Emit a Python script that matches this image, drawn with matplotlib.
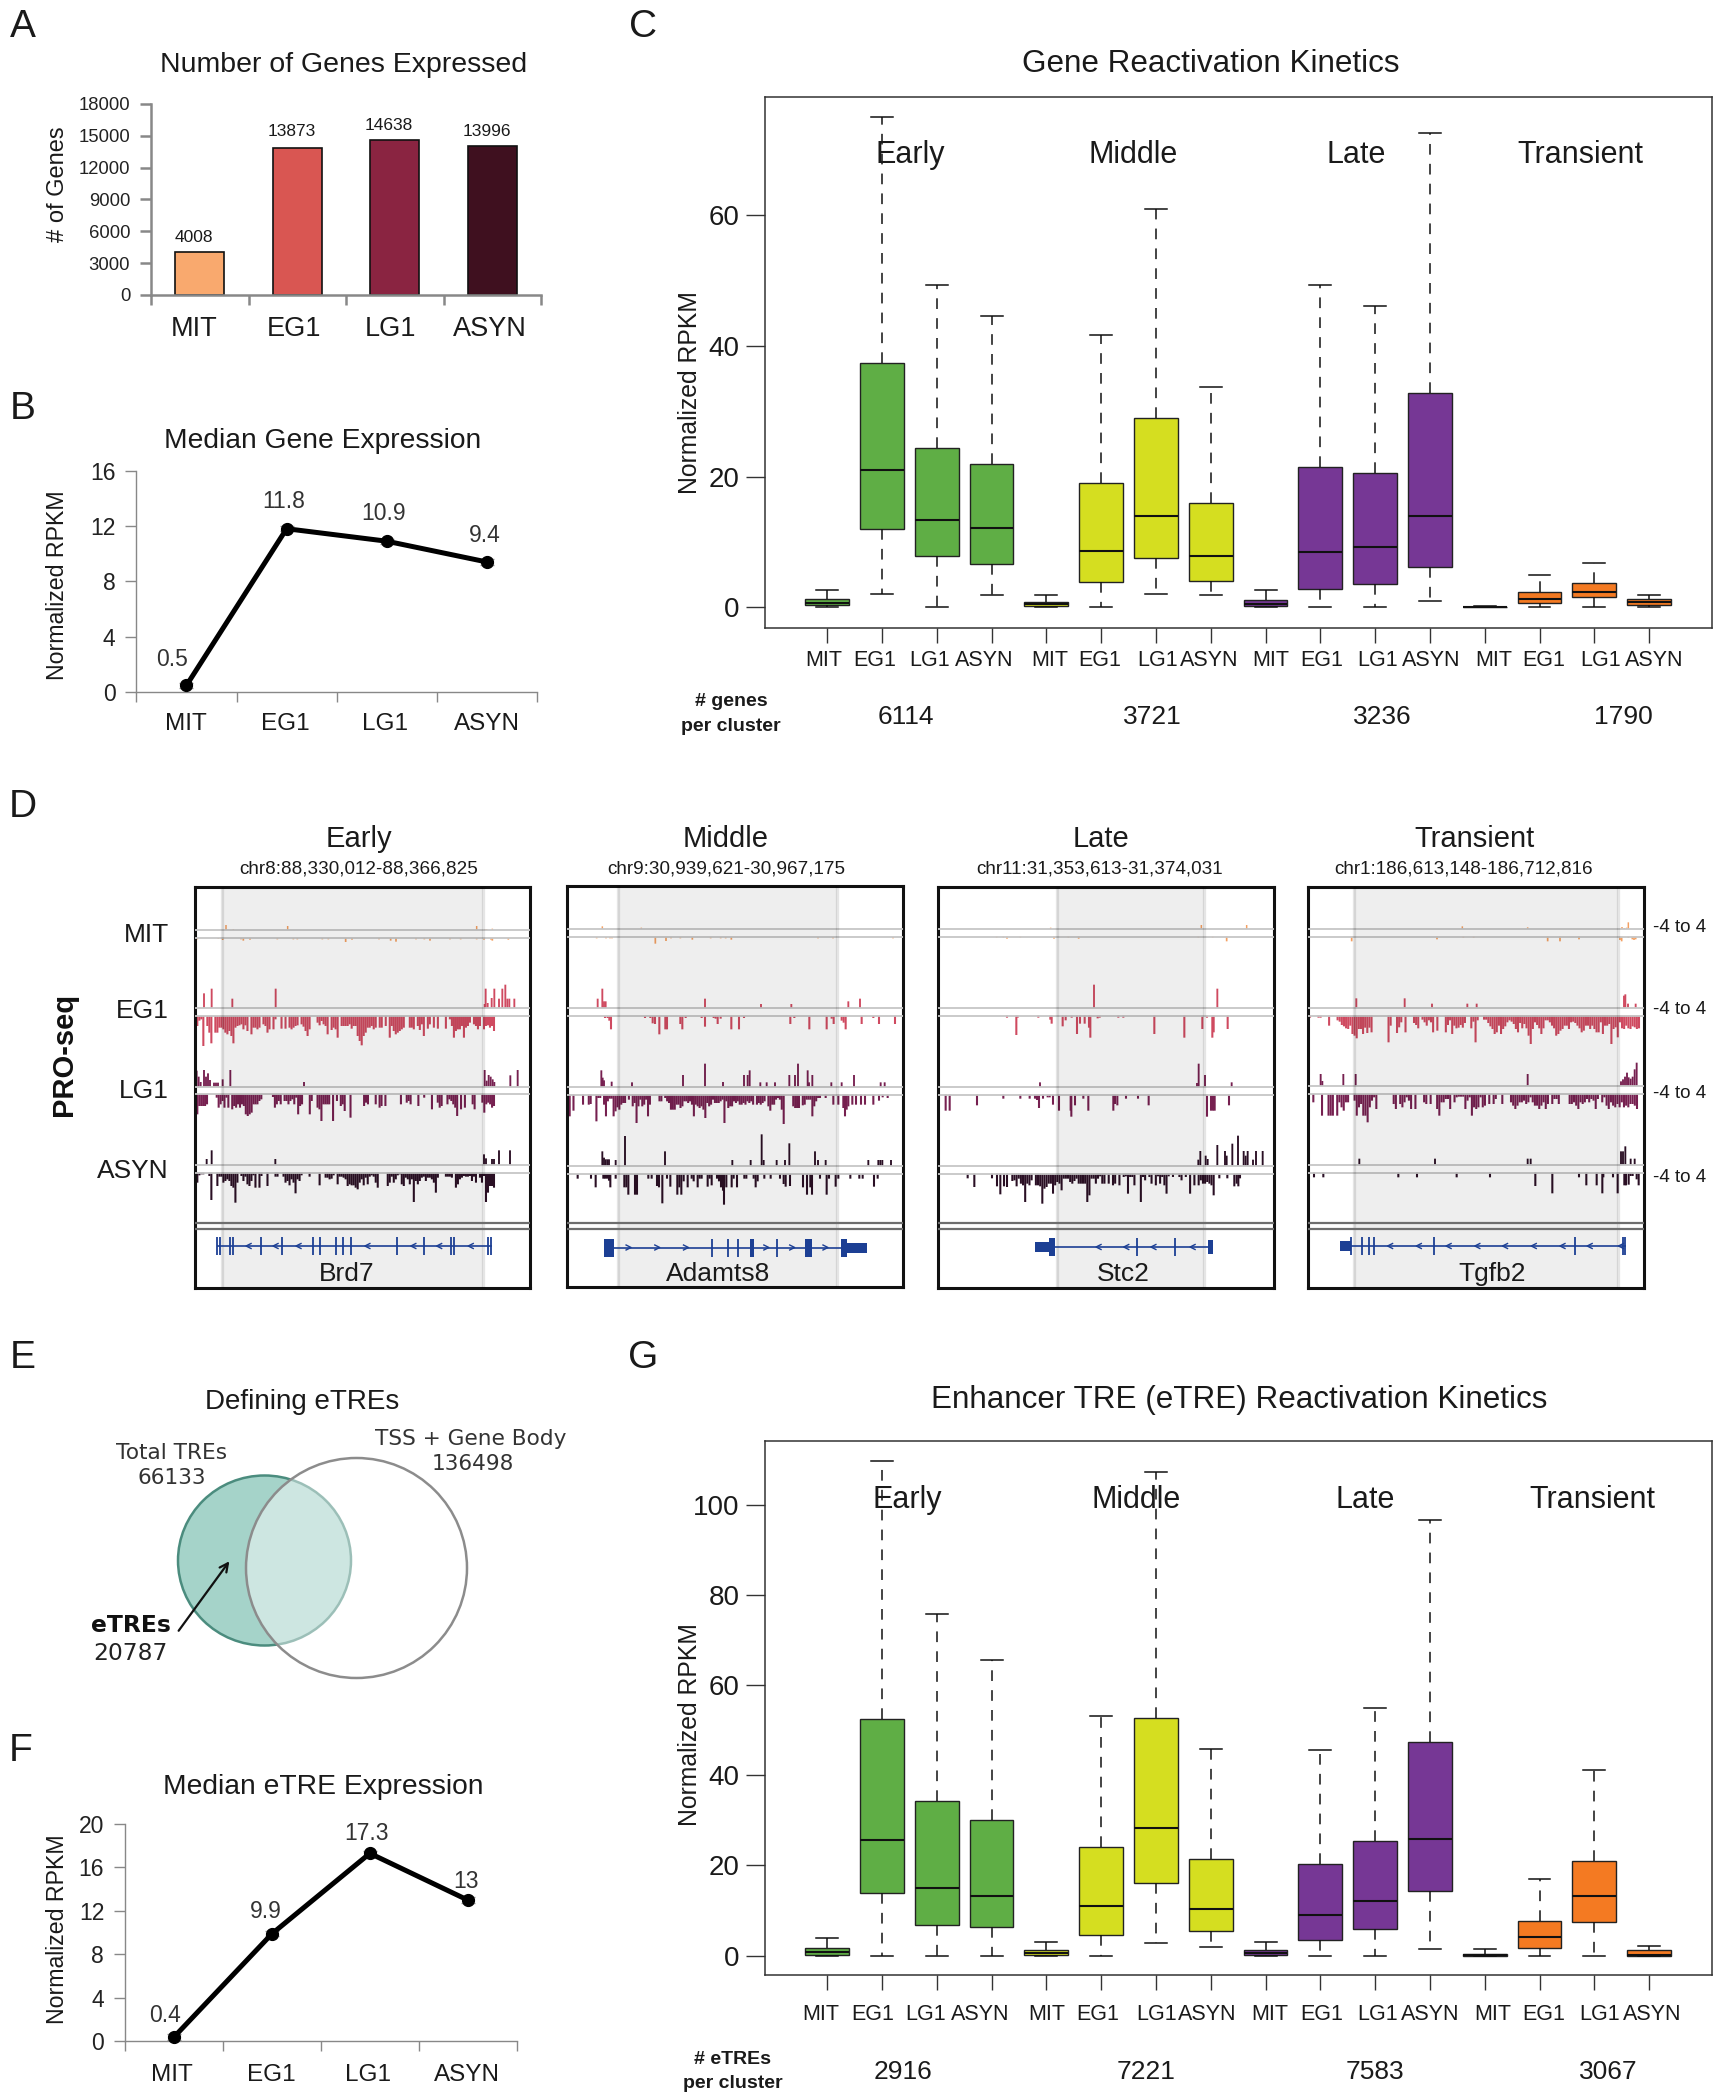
import numpy as np
import matplotlib
matplotlib.use("Agg")
import matplotlib.pyplot as plt
from matplotlib.patches import Ellipse, FancyArrowPatch, Rectangle

plt.rcParams['font.family'] = ['Liberation Sans', 'DejaVu Sans']
W, H = 1719, 2100
fig = plt.figure(figsize=(W / 100, H / 100), dpi=100, facecolor='white')

# ---------------- data ----------------
stages = ['MIT', 'EG1', 'LG1', 'ASYN']
clusters = ['Early', 'Middle', 'Late', 'Transient']
genes_expressed = [4008, 13873, 14638, 13996]
stage_colors = ['#f9a96e', '#d95652', '#8a2441', '#3f101f']
median_gene = [0.5, 11.8, 10.9, 9.4]
median_etre = [0.4, 9.9, 17.3, 13]
cluster_colors = ['#5fae45', '#d5de20', '#763795', '#f47a22']
track_colors = ['#f4a062', '#cf4a60', '#762050', '#2a0f24']

# lo, q1, median, q3, hi
gene_boxes = [
    [0, .3, .7, 1.3, 2.7], [2, 12, 21, 37.3, 75], [0, 7.8, 13.4, 24.4, 49.2], [1.9, 6.7, 12.1, 21.9, 44.5],
    [0, .15, .5, .9, 1.9], [0, 3.9, 8.6, 19, 41.6], [2.1, 7.5, 14, 29, 60.9], [1.9, 4.1, 7.8, 15.9, 33.7],
    [0, .15, .5, 1.1, 2.7], [0, 2.8, 8.4, 21.4, 49.2], [0, 3.6, 9.3, 20.6, 46], [1, 6.1, 13.9, 32.7, 72.5],
    [0, 0, .05, .1, .2], [0, .7, 1.3, 2.4, 5], [0, 1.6, 2.4, 3.7, 6.8], [0, .4, .9, 1.3, 1.9]]
etre_boxes = [
    [0, .1, .75, 1.7, 4], [0, 14, 25.6, 52.5, 109.7], [0, 6.9, 15, 34.4, 75.8], [0, 6.3, 13.3, 30, 65.5],
    [0, .1, .65, 1.3, 3.1], [0, 4.6, 10.9, 24.1, 53.1], [2.8, 16.2, 28.3, 52.6, 107.3], [2, 5.4, 10.3, 21.5, 45.9],
    [0, .1, .65, 1.3, 3], [0, 3.4, 9, 20.3, 45.7], [0, 5.8, 12.2, 25.4, 54.9], [1.4, 14.3, 25.8, 47.3, 96.7],
    [0, 0, .1, .45, 1.5], [0, 1.6, 4.2, 7.7, 17], [0, 7.5, 13.3, 21, 41.2], [0, 0, .1, 1.3, 2.2]]
gene_counts = ['6114', '3721', '3236', '1790']
etre_counts = ['2916', '7221', '7583', '3067']


def dense(start, end, hs):
    return list(zip(np.linspace(start, end, len(hs)), hs))


# PRO-seq signal: (position along the window, height), one list per strand
p1 = dict(
    MIT_p=[(108, 15), (130, 3), (293, 12), (860, 12), (885, 3), (890, 3), (907, 4)],
    MIT_n=[(22, 4), (85, 3), (98, 6), (153, 4), (160, 8), (180, 5), (262, 4), (310, 4), (322, 4), (397, 4), (415, 4),
           (467, 12), (486, 5), (567, 4), (602, 8), (618, 11), (678, 4), (703, 4), (720, 8), (780, 4), (812, 4),
           (860, 4), (882, 5), (903, 5), (907, 8), (955, 5)],
    EG1_p=[(42, 44), (65, 58), (127, 28), (257, 58), (884, 12), (887, 58), (893, 15), (905, 30), (913, 58), (927, 28),
           (937, 58), (946, 70), (952, 28), (958, 28), (973, 28)],
    EG1_n=dense(22, 912, [30, 14, 10, 90, 0, 30, 50, 82, 0, 50, 50, 35, 35, 40, 50, 55, 45, 60, 82, 35, 30, 28, 25, 40,
                          28, 45, 0, 55, 35, 35, 40, 35, 0, 25, 30, 50, 40, 0, 40, 10, 0, 0, 38, 0, 38, 0, 35, 40, 35,
                          30, 28, 0, 25, 32, 45, 60, 40, 0, 0, 0, 20, 28, 15, 25, 30, 55, 0, 42, 35, 40, 65, 0, 30, 30,
                          30, 30, 25, 38, 30, 30, 60, 75, 88, 60, 50, 35, 35, 30, 40, 35, 0, 35, 35, 0, 30, 0, 65, 30,
                          45, 55, 50, 45, 40, 35, 0, 0, 35, 35, 40, 0, 30, 42, 25, 60, 0, 38, 25, 0, 35, 0, 38, 0, 0,
                          0, 38, 0, 10, 30, 65, 45, 40, 40, 30, 65, 35, 30, 20, 0, 25, 30, 40, 30, 0, 40, 30, 28, 35,
                          30, 45]),
    LG1_p=[(20, 48), (26, 30), (32, 14), (42, 50), (48, 30), (54, 40), (60, 20), (72, 12), (78, 12), (84, 12), (98, 22),
           (121, 50), (342, 14), (884, 50), (890, 18), (896, 35), (902, 30), (908, 22), (913, 14), (961, 34), (983, 50)],
    LG1_n=dense(22, 912, [60, 35, 35, 35, 35, 30, 0, 0, 0, 0, 10, 40, 30, 20, 40, 10, 40, 0, 45, 35, 40, 30, 40, 30, 35,
                          60, 65, 60, 55, 30, 30, 30, 20, 15, 0, 0, 0, 0, 0, 8, 40, 30, 20, 30, 0, 20, 20, 30, 20, 15,
                          30, 10, 60, 35, 30, 0, 0, 0, 60, 20, 0, 0, 40, 45, 80, 30, 30, 30, 30, 0, 80, 0, 20, 0, 35,
                          30, 50, 0, 0, 70, 0, 0, 0, 0, 0, 0, 35, 25, 30, 0, 0, 0, 30, 0, 40, 35, 0, 35, 0, 0, 0, 0, 0,
                          0, 0, 30, 0, 0, 25, 20, 30, 0, 0, 0, 35, 0, 0, 10, 0, 0, 0, 45, 0, 0, 25, 40, 35, 0, 0, 30,
                          15, 20, 30, 40, 65, 0, 45, 0, 40, 0, 0, 0, 30, 45, 0, 0, 0, 25, 55, 30, 25, 30, 40, 35]),
    ASYN_p=[(50, 18), (65, 44), (256, 18), (882, 32), (888, 20), (906, 18), (912, 18), (927, 44), (960, 44)],
    ASYN_n=dense(22, 912, [30, 8, 5, 5, 0, 0, 10, 82, 0, 0, 40, 12, 12, 30, 25, 20, 25, 40, 45, 90, 30, 0, 10, 25, 12,
                           35, 40, 25, 8, 45, 0, 45, 10, 0, 0, 40, 0, 0, 0, 12, 12, 0, 0, 12, 30, 25, 38, 20, 30, 62,
                           20, 25, 8, 0, 0, 0, 12, 0, 0, 0, 0, 38, 0, 0, 15, 15, 20, 18, 8, 0, 35, 12, 12, 15, 20, 40,
                           35, 38, 38, 45, 50, 30, 20, 38, 15, 35, 12, 8, 12, 30, 45, 0, 0, 0, 0, 40, 30, 12, 30, 20, 8,
                           5, 35, 40, 15, 20, 35, 20, 88, 25, 35, 25, 15, 12, 25, 15, 15, 20, 30, 60, 15, 0, 0, 0, 12,
                           12, 12, 15, 0, 45, 35, 20, 15, 10, 12, 12, 10, 25, 12, 30, 0, 15, 30, 10, 88, 60, 40, 40, 45]))
p2 = dict(
    MIT_p=[(112, 8), (229, 4)],
    MIT_n=[(95, 4), (123, 4), (135, 4), (141, 4), (271, 20), (303, 12), (318, 4), (346, 4), (382, 8), (437, 4),
           (467, 4), (482, 4), (499, 8), (759, 4), (804, 4), (984, 4)],
    EG1_p=[(98, 28), (112, 58), (117, 20), (122, 20), (420, 28), (588, 12), (679, 12), (850, 20), (885, 28)],
    EG1_n=[(120, 6), (128, 6), (133, 14), (138, 40), (240, 6), (256, 6), (263, 22), (270, 24), (283, 55), (301, 40),
           (306, 40), (346, 24), (352, 40), (362, 6), (410, 6), (420, 32), (446, 6), (452, 8), (458, 24), (467, 8),
           (499, 40), (522, 40), (537, 6), (676, 24), (688, 6), (733, 40), (785, 40), (800, 8), (806, 24), (830, 14),
           (836, 20), (842, 40), (890, 24), (925, 6), (942, 24), (990, 24)],
    LG1_p=[(109, 50), (113, 28), (117, 20), (140, 16), (201, 14), (354, 36), (420, 70), (474, 15), (537, 36), (548, 36),
           (554, 50), (586, 14), (605, 14), (630, 14), (673, 36), (690, 36), (699, 70), (728, 50), (732, 14), (742, 36),
           (799, 14), (830, 14), (867, 36), (947, 14), (959, 14)],
    LG1_n=dense(14, 765, [65, 0, 48, 0, 0, 0, 0, 30, 0, 0, 30, 28, 0, 0, 80, 10, 10, 0, 30, 65, 20, 12, 12, 65, 50, 38,
                          45, 30, 25, 25, 0, 15, 0, 35, 25, 85, 35, 15, 35, 30, 15, 65, 30, 0, 0, 0, 0, 20, 20, 0, 10,
                          20, 25, 45, 45, 45, 30, 30, 40, 35, 20, 20, 25, 20, 30, 65, 30, 35, 40, 35, 45, 70, 25, 35,
                          30, 15, 25, 25, 25, 20, 15, 85, 20, 40, 35, 35, 20, 25, 20, 30, 30, 25, 30, 20, 25, 20, 30, 0,
                          30, 25, 30, 25, 20, 0, 35, 48, 30, 30, 15, 10, 15, 45, 88, 0, 0, 0, 0, 35, 40, 40, 40, 0, 32,
                          30, 15, 15, 15, 65, 35, 20, 10, 10]) +
          [(782, 10), (805, 30), (820, 30), (835, 40), (840, 65), (845, 45), (850, 35), (862, 30), (873, 30), (888, 30),
           (900, 30), (925, 30), (942, 18), (953, 8), (968, 10)],
    ASYN_p=[(112, 44), (117, 25), (122, 20), (127, 20), (132, 20), (152, 18), (180, 90), (300, 44), (502, 18), (557, 18),
            (590, 95), (596, 18), (635, 18), (660, 18), (673, 68), (750, 44), (759, 18), (782, 18), (910, 18), (940, 18),
            (946, 18), (952, 18), (978, 18)],
    ASYN_n=[(38, 14), (78, 14), (92, 40), (115, 14), (120, 14), (126, 14), (132, 20), (136, 40), (152, 14), (178, 40),
            (184, 40), (190, 62), (210, 62), (216, 62), (250, 14), (260, 14), (276, 36), (282, 40), (292, 88), (306, 14),
            (316, 38), (337, 62), (343, 40), (349, 62), (356, 22), (368, 40), (380, 14), (386, 22), (398, 40), (404, 14),
            (410, 14), (428, 38), (434, 14), (440, 34), (456, 14), (462, 22), (468, 40), (474, 50), (477, 92), (484, 40),
            (500, 40), (506, 14), (516, 40), (538, 14), (544, 14), (566, 14), (572, 40), (578, 22), (598, 14), (617, 14),
            (645, 14), (656, 30), (662, 38), (675, 36), (714, 40), (726, 62), (736, 40), (741, 62), (765, 14), (785, 62),
            (792, 14), (812, 38), (820, 14), (856, 14), (883, 14), (893, 14), (927, 38), (938, 14)])
p3 = dict(
    MIT_p=[(347, 4), (799, 12), (935, 12)],
    MIT_n=[(185, 3), (205, 3), (216, 6), (256, 3), (357, 6), (400, 3), (431, 6), (790, 3), (833, 3), (875, 14)],
    EG1_p=[(477, 70), (847, 58)],
    EG1_n=[(216, 6), (244, 58), (248, 6), (310, 6), (346, 12), (350, 24), (383, 32), (392, 14), (410, 6), (426, 55),
           (435, 24), (449, 24), (462, 36), (466, 66), (488, 8), (494, 6), (550, 6), (565, 6), (658, 55), (748, 66),
           (802, 40), (816, 6), (832, 66), (836, 50), (878, 40)],
    LG1_p=[(315, 14), (786, 12), (791, 70), (810, 36), (890, 14)],
    LG1_n=[(32, 48), (44, 48), (126, 32), (205, 12), (256, 12), (284, 12), (300, 12), (306, 16), (312, 40), (324, 12),
           (338, 8), (344, 8), (354, 30), (372, 48), (407, 48), (409, 66), (420, 32), (445, 12), (460, 48), (535, 48),
           (540, 28), (547, 32), (573, 12), (609, 12), (641, 32), (816, 66), (828, 48), (834, 48), (839, 48), (882, 32)],
    ASYN_p=[(790, 18), (796, 44), (812, 30), (818, 20), (847, 62), (870, 44), (875, 30), (892, 66), (909, 90), (926, 44),
            (932, 30), (938, 44), (954, 18), (963, 44), (983, 44)],
    ASYN_n=[(98, 14), (118, 40), (171, 14), (186, 38), (196, 62), (207, 38), (216, 40)] +
           dense(232, 836, [22, 20, 38, 15, 30, 35, 85, 30, 35, 20, 0, 35, 35, 38, 90, 45, 40, 30, 30, 60, 35, 25, 30,
                            50, 15, 15, 15, 25, 30, 22, 15, 30, 30, 30, 30, 85, 65, 15, 15, 30, 15, 8, 30, 30, 0, 30, 0,
                            35, 30, 0, 35, 0, 10, 8, 60, 10, 10, 35, 0, 0, 85, 10, 20, 0, 10, 30, 0, 35, 8, 30, 10, 35,
                            60, 8, 0, 10, 0, 0, 10, 20, 0, 10, 0, 60, 0, 35, 0, 35, 20, 30, 30, 25, 30, 35, 65]) +
           [(853, 14), (877, 14), (898, 38), (905, 30), (910, 38), (915, 14)])
p4 = dict(
    MIT_p=[(472, 8), (668, 5), (951, 6), (958, 3), (965, 4), (970, 20)],
    MIT_n=[(140, 14), (396, 8), (475, 4), (506, 4), (728, 14), (765, 14), (822, 8), (945, 10), (950, 14), (970, 4),
           (982, 8), (987, 10), (992, 8)],
    EG1_p=[(154, 28), (299, 28), (381, 12), (487, 12), (515, 12), (957, 36), (961, 40), (969, 12), (992, 12)],
    EG1_n=dense(15, 1002, [6, 0, 0, 0, 6, 6, 0, 0, 0, 30, 0, 0, 0, 14, 18, 28, 32, 38, 40, 30, 55, 60, 68, 40, 40, 55,
                           36, 52, 36, 50, 0, 0, 0, 0, 0, 0, 0, 80, 30, 0, 0, 52, 35, 20, 0, 50, 0, 0, 0, 22, 28, 38, 0,
                           12, 20, 30, 14, 20, 50, 0, 45, 0, 0, 0, 50, 28, 14, 55, 30, 38, 36, 28, 36, 22, 0, 0, 38, 18,
                           80, 14, 0, 0, 12, 12, 22, 32, 40, 55, 50, 30, 55, 40, 32, 20, 14, 18, 25, 40, 50, 22, 38, 25,
                           38, 60, 85, 40, 20, 28, 38, 55, 38, 14, 14, 20, 30, 38, 60, 55, 45, 40, 30, 30, 40, 20, 18,
                           22, 30, 38, 50, 45, 30, 30, 40, 30, 40, 50, 50, 20, 55, 30, 30, 25, 85, 40, 35, 65, 20, 38,
                           40, 30, 38, 40, 32, 35, 40, 38]),
    LG1_p=[(47, 36), (52, 15), (115, 36), (152, 36), (668, 36), (948, 14), (954, 20), (960, 28), (966, 40), (971, 26),
           (977, 22), (983, 28), (989, 50), (995, 70)],
    LG1_n=dense(25, 996, [25, 0, 0, 0, 65, 0, 0, 65, 65, 65, 0, 65, 25, 40, 50, 25, 25, 0, 0, 20, 65, 40, 30, 65, 65,
                          85, 40, 20, 10, 45, 0, 0, 0, 0, 0, 0, 0, 30, 45, 0, 30, 40, 25, 10, 20, 45, 0, 45, 0, 0, 0, 25,
                          30, 0, 30, 0, 0, 45, 65, 25, 25, 15, 15, 45, 0, 25, 10, 8, 8, 8, 45, 20, 10, 65, 40, 45, 40,
                          10, 40, 35, 0, 30, 0, 30, 15, 0, 0, 30, 0, 0, 0, 25, 35, 45, 35, 25, 25, 20, 30, 25, 10, 25,
                          35, 35, 45, 35, 25, 45, 30, 0, 30, 15, 15, 30, 0, 0, 0, 0, 30, 30, 25, 35, 45, 25, 30, 25, 15,
                          25, 15, 20, 45, 15, 0, 25, 10, 35, 45, 25, 35, 40, 30, 40, 25, 40, 35, 40, 30, 30, 35, 45]),
    ASYN_p=[(163, 18), (390, 18), (668, 18), (677, 18), (948, 40), (954, 40), (961, 55), (977, 18), (989, 18)],
    ASYN_n=[(27, 14), (55, 14), (280, 14), (336, 14), (455, 14), (555, 14), (691, 40), (742, 62), (822, 14), (844, 38),
            (875, 38), (892, 62), (895, 14), (924, 14), (938, 62), (958, 38), (963, 38), (971, 36), (977, 10), (983, 10),
            (995, 20), (1001, 38)])


def pxaxes(x0, y0, x1, y1, **kw):
    return fig.add_axes([x0 / W, 1 - y1 / H, (x1 - x0) / W, (y1 - y0) / H], **kw)


# ---------------- overlay for free text (drawn last) ----------------
ov = pxaxes(0, 0, W, H, zorder=50)
ov.set_xlim(0, W)
ov.set_ylim(H, 0)
ov.axis('off')
ov.patch.set_alpha(0)


def T(x, y, s, size, ha='center', va='center', color='#1a1a1a', rotation=0, **kw):
    if rotation:
        x += 3
    else:
        y += 3
    ov.text(x, y, s, fontsize=size, ha=ha, va=va, color=color, rotation=rotation, **kw)


for lab, x, y in [('A', 23, 24), ('B', 23, 406), ('C', 643, 24), ('D', 23, 804), ('E', 23, 1355), ('F', 21, 1748),
                  ('G', 643, 1355)]:
    T(x, y, lab, 28)


# ---------------- A ----------------
def excel_axes(rect, ymax, yticks, lw, tick_fs):
    ax = pxaxes(*rect)
    ax.set_xlim(-.5, 3.5)
    ax.set_ylim(0, ymax)
    for s in ('top', 'right'):
        ax.spines[s].set_visible(False)
    for s in ('left', 'bottom'):
        ax.spines[s].set_color('#888888')
        ax.spines[s].set_linewidth(lw)
    ax.set_yticks(yticks)
    ax.tick_params(axis='y', labelsize=tick_fs, length=8, width=lw, color='#888888', labelcolor='#222222', pad=7)
    ax.set_xticks(np.arange(-.5, 4))
    ax.set_xticklabels([])
    ax.tick_params(axis='x', which='major', length=7, width=lw, color='#888888')
    return ax


axA = excel_axes((151, 104, 541, 295), 18000, range(0, 18001, 3000), 1.8, 13.3)
axA.bar(range(4), genes_expressed, width=.5, color=stage_colors, edgecolor='#111111', linewidth=1.2)
for x, v, yy in zip([194, 292, 389, 487], genes_expressed, [234.5, 128, 122.7, 128]):
    T(x, yy, str(v), 12.5)
for s, x in zip(stages, [194, 294, 390.7, 490]):
    T(x, 326, s, 19.5)
T(344, 62, 'Number of Genes Expressed', 20.5)
T(55, 184, '# of Genes', 17, rotation=90)


# ---------------- B / F ----------------
def line_panel(rect, ymax, ticks, vals, title, tpos, labs, labpos, ylabpos, cat_x, cat_y):
    ax = excel_axes(rect, ymax, ticks, 1.0, 16.5)
    ax.errorbar(range(4), vals, yerr=ymax * .012, color='#999999', lw=0, elinewidth=1, capsize=5, zorder=2)
    ax.plot(range(4), vals, '-o', color='black', lw=3.6, ms=8.5, zorder=3, clip_on=False)
    T(*tpos, title, 20.3)
    for s, (x, y) in zip(labs, labpos):
        T(x, y, s, 16.5, color='#333333')
    T(*ylabpos, 'Normalized RPKM', 16.7, rotation=90)
    for s, x in zip(stages, cat_x):
        T(x, cat_y, s, 17.5)
    return ax


line_panel((136.4, 470.5, 537, 692.3), 16, range(0, 17, 4), median_gene, 'Median Gene Expression', (323, 438),
           ['0.5', '11.8', '10.9', '9.4'], [(171.6, 656), (284, 498), (384, 510.6), (485, 532)], (55, 585),
           [186, 285, 385, 487], 721)
line_panel((125, 1824, 516.8, 2041.4), 20, range(0, 21, 4), median_etre, 'Median eTRE Expression', (323, 1784),
           ['0.4', '9.9', '17.3', '13'], [(165, 2013), (266, 1908), (366.5, 1830), (466, 1878)], (55, 1929),
           [172, 271, 368, 467], 2072)


# ---------------- C / G ----------------
def box_panel(rect, boxes, ylim, yticks, title, tpos, ctexts_y, ctexts_x, lab_y, lab_x, ylab, cnt_title, cnt_tx, cnt_ty,
              cnt_x, cnt_y, counts):
    ax = pxaxes(*rect)
    stats = [dict(whislo=b[0], q1=b[1], med=b[2], q3=b[3], whishi=b[4], fliers=[]) for b in boxes]
    res = ax.bxp(stats, positions=range(1, 17), widths=.8, patch_artist=True, showfliers=False, manage_ticks=False,
                 capwidths=.4,
                 boxprops=dict(linewidth=1.0, edgecolor='#222222'),
                 medianprops=dict(color='#111111', linewidth=1.5, solid_capstyle='butt'),
                 whiskerprops=dict(color='#111111', linewidth=1.1, linestyle=(0, (7, 6))),
                 capprops=dict(color='#111111', linewidth=1.1))
    for i, b in enumerate(res['boxes']):
        b.set_facecolor(cluster_colors[i // 4])
    ax.set_xlim(-.142, 17.14)
    ax.set_ylim(*ylim)
    ax.set_xticks(range(1, 17))
    ax.set_xticklabels([])
    ax.set_yticks(yticks)
    ax.tick_params(axis='x', length=11, width=1, color='#333333')
    ax.tick_params(axis='y', length=14, width=1, color='#333333', labelsize=20, pad=4, labelcolor='#1a1a1a')
    for s in ax.spines.values():
        s.set_linewidth(1.1)
        s.set_color('#333333')
    T(*tpos, title, 22.6)
    for s, x in zip(clusters, ctexts_x):
        T(x, ctexts_y, s, 22)
    for i, x in enumerate(lab_x):
        T(x, lab_y, stages[i % 4], 15.5)
    T(687, ylab, 'Normalized RPKM', 17.8, rotation=90)
    T(cnt_tx, cnt_ty[0], cnt_title, 14, fontweight='bold')
    T(cnt_tx, cnt_ty[1], 'per cluster', 14, fontweight='bold')
    for s, x in zip(counts, cnt_x):
        T(x, cnt_y, s, 19)
    return ax


zoom_x = lambda z: [640 + v / 1.453 for v in z]
box_panel((764.6, 97, 1711.6, 627.7), gene_boxes, (-3.1, 78), range(0, 61, 20), 'Gene Reactivation Kinetics', (1211, 61),
          152, [910, 1133.5, 1356, 1580], 657,
          zoom_x([267, 341, 421, 500, 595, 668, 752, 827, 917, 991, 1071, 1150, 1240, 1313, 1395, 1473]),
          392.6, '# genes', 731, (699, 723.6), [905.6, 1152.7, 1382, 1623], 714, gene_counts)
box_panel((764.6, 1440.8, 1711.6, 1975), etre_boxes, (-4.3, 114.2), range(0, 101, 20),
          'Enhancer TRE (eTRE) Reactivation Kinetics', (1239, 1397), 1497, [907, 1136, 1365, 1592], 2011.8,
          zoom_x([262, 338, 415, 495, 591, 665, 750, 824, 915, 990, 1072, 1148, 1239, 1313, 1394, 1471]),
          1725, '# eTREs', 733, (2056, 2080), [903, 1146, 1375, 1608], 2069, etre_counts)

# ---------------- D ----------------
panels = [
    dict(box=(194.6, 887, 530, 1288), crop=190, grey=(221.7, 483), data=p1, title='Early',
         chrom='chr8:88,330,012-88,366,825', tx=358.8, cx=358.8, gene='Brd7', gx=347,
         base=[(60, 84), (294, 318), (530, 553), (765, 788)]),
    dict(box=(566.6, 886, 902.6, 1287), crop=565, grey=(618, 836.7), data=p2, title='Middle',
         chrom='chr9:30,939,621-30,967,175', tx=726, cx=726, gene='Adamts8', gx=717.6,
         base=[(57, 81), (294, 318), (531, 554), (768, 792)]),
    dict(box=(937.6, 887, 1273.6, 1288), crop=935, grey=(1056.7, 1204), data=p3, title='Late',
         chrom='chr11:31,353,613-31,374,031', tx=1101, cx=1100, gene='Stc2', gx=1123.6,
         base=[(57, 80), (294, 317), (531, 554), (767, 791)]),
    dict(box=(1308, 887, 1643.5, 1288), crop=1305, grey=(1354, 1618), data=p4, title='Transient',
         chrom='chr1:186,613,148-186,712,816', tx=1474.7, cx=1464, gene='Tgfb2', gx=1492,
         base=[(57, 80), (293, 317), (528, 552), (764, 788)]),
]
for P in panels:
    x0, y0, x1, y1 = P['box']
    ax = pxaxes(x0, y0, x1, y1)
    c = P['crop']
    ax.set_xlim((x0 - c) * 3, (x1 - c) * 3)
    ax.set_ylim((y1 - 910) * 3, (y0 - 910) * 3)
    ax.set_xticks([])
    ax.set_yticks([])
    for s in ax.spines.values():
        s.set_linewidth(2.2)
        s.set_color('#111111')
    for (bp, bn), st, col in zip(P['base'], stages, track_colors):
        pp = P['data'][st + '_p']
        nn = P['data'][st + '_n']
        wp = 4.5 if st == 'MIT' else 5.6
        for bars in (ax.bar([q[0] for q in pp], [-q[1] for q in pp], width=wp, bottom=bp, color=col, linewidth=0, zorder=2),
                     ax.bar([q[0] for q in nn], [q[1] for q in nn], width=wp + .6, bottom=bn, color=col, linewidth=0,
                            zorder=2)):
            for r in bars:
                r.set_snap(False)
        for b in (bp, bn):
            ax.axhline(b, color='#c6c6c6', lw=1.3, zorder=3)
    g0, g1 = (P['grey'][0] - c) * 3, (P['grey'][1] - c) * 3
    ax.axvspan(g0, g1, color='#000000', alpha=.065, lw=0, zorder=4)
    for g in (g0, g1):
        ax.axvline(g, color='#000000', alpha=.1, lw=2.4, zorder=4)
    for yy in (1222.8, 1229.4):
        ax.axhline((yy - 910) * 3, color='#6e6e6e', lw=1.6, zorder=5)
    T(P['tx'], 835.7, P['title'], 21)
    T(P['cx'], 866, P['chrom'], 13.6)
    T(P['gx'], 1271, P['gene'], 19)

for s, y in zip(stages, [932, 1008, 1088.5, 1168]):
    T(169, y, s, 19, ha='right')
for y in (924, 1007, 1090, 1174):
    T(1653, y, '-4 to 4', 13.6, ha='left')
T(61, 1054, 'PRO-seq', 21, rotation=90, fontweight='bold', color='#111111')

# gene models (exon positions along each window)
GENE = '#1c3f94'


def gene(ox, sx, yc, line, exons, blocks, arrows, direction):
    xf = lambda v: ox + v / sx
    ov.plot([xf(line[0]), xf(line[1])], [yc, yc], color=GENE, lw=1.2, solid_capstyle='butt', zorder=6)
    for e in exons:
        ov.plot([xf(e), xf(e)], [yc - 9, yc + 9], color=GENE, lw=1.3, solid_capstyle='butt', zorder=6)
    for a, b, hh in blocks:
        ov.add_patch(Rectangle((xf(a), yc - hh), (b - a) / sx, 2 * hh, color=GENE, lw=0, zorder=6))
    for a in arrows:
        d = 2.5 * direction
        ov.plot([xf(a) - d, xf(a) + d, xf(a) - d], [yc - 2.5, yc, yc + 2.5], color=GENE, lw=1, zorder=6)


gene(0, 1.742, 1246, (378, 857), [378, 383, 400, 406, 455, 492, 546, 558, 585, 597, 612, 691, 738, 785, 791, 850, 856],
     [], [433, 480, 520, 640, 720, 765, 820], -1)
gene(0, 1.742, 1247.5, (1052, 1510), [1240, 1268, 1285, 1353, 1405, 1412],
     [(1052, 1070, 9), (1307, 1313, 9), (1403, 1415, 9), (1465, 1476, 9), (1476, 1510, 5)],
     [1095, 1145, 1195, 1335, 1380, 1438], 1)
gene(900, 1.914, 1247, (285, 600), [453, 527], [(259, 285, 5), (285, 296, 9), (590, 599, 7)], [380, 433, 485, 560], -1)
gene(900, 1.914, 1246, (843, 1390), [863, 885, 897, 908, 1022, 1292, 1384, 1388], [(843, 863, 5)],
     [938, 993, 1050, 1105, 1158, 1213, 1268, 1320, 1380], -1)

# ---------------- E ----------------
ov.add_patch(Ellipse((264.5, 1560.5), 173, 170, facecolor='#a5d3c9', edgecolor='#4b8c7e', lw=1.8, zorder=2))
ov.add_patch(Ellipse((356.5, 1568), 221, 220, facecolor='white', alpha=.45, edgecolor='none', zorder=3))
ov.add_patch(Ellipse((356.5, 1568), 221, 220, facecolor='none', edgecolor='#8c8c8c', lw=1.8, zorder=4))
ov.add_patch(FancyArrowPatch((177, 1633), (231, 1559), arrowstyle='->', mutation_scale=15, color='#111111', lw=1.6,
                             zorder=5))
T(302.5, 1399, 'Defining eTREs', 20)
E_FONT = ['DejaVu Sans']
T(172, 1450, 'Total TREs', 15.6, family=E_FONT, color='#333333')
T(172, 1475, '66133', 15.6, family=E_FONT, color='#333333')
T(471, 1436, 'TSS + Gene Body', 15.6, family=E_FONT, color='#333333')
T(472.5, 1461, '136498', 15.6, family=E_FONT, color='#333333')
T(130.5, 1623, 'eTREs', 16.8, family=E_FONT, fontweight='bold', color='#111111')
T(130.5, 1650, '20787', 16.8, family=E_FONT, color='#222222')

fig.savefig('out.png', dpi=100, facecolor='white')
